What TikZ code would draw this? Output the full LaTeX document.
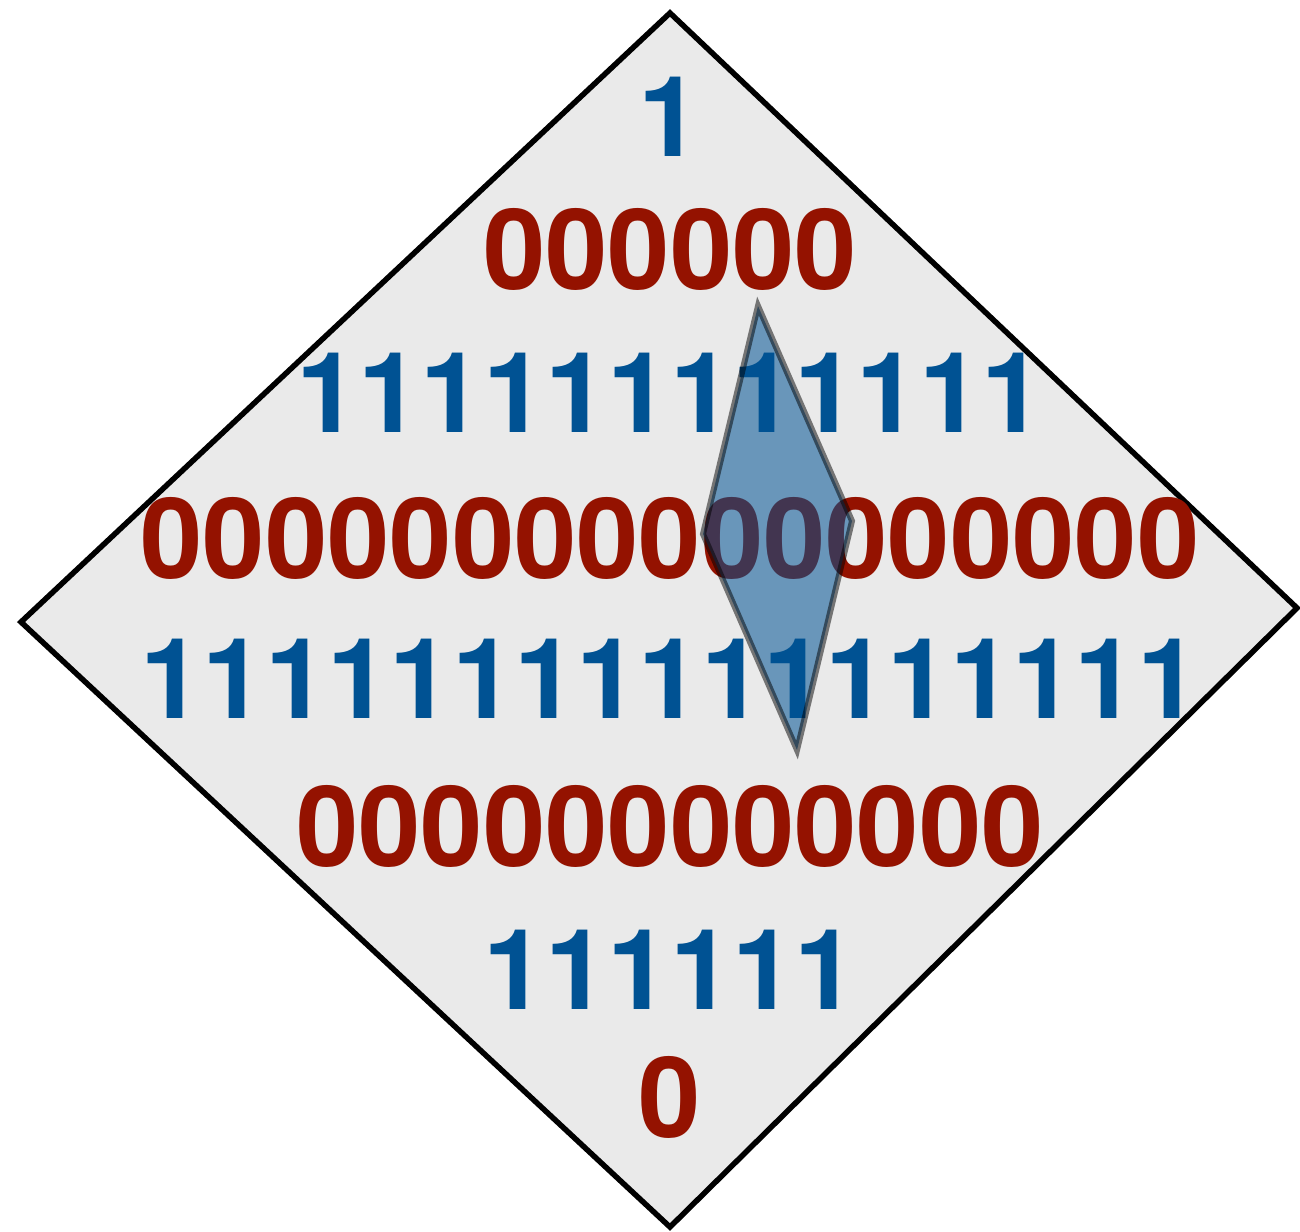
\documentclass[tikz,border=0pt]{standalone}
\usepackage{fontspec}
\setmainfont{TeX Gyre Heros}
\definecolor{bitblue}{RGB}{0,82,147}
\definecolor{bitred}{RGB}{148,18,0}
\definecolor{panel}{RGB}{234,234,234}
\tikzset{
  bits/.style={anchor=base, inner sep=0pt, font=\fontsize{112}{112}\selectfont\bfseries},
  onebits/.style={bits, text=bitblue},
  zerobits/.style={bits, text=bitred},
  lens/.style={fill=bitblue, fill opacity=0.55, draw=black, draw opacity=0.5, line width=6pt, line join=miter}
}
\begin{document}
\begin{tikzpicture}[x=1pt, y=-1pt]
  \useasboundingbox (0,0) rectangle (1300,1231);
  % outer diamond
  \coordinate (T) at (670,13);
  \coordinate (L) at (21,622);
  \coordinate (B) at (670,1227);
  \coordinate (R) at (1297,608);
  \draw[fill=panel, line width=5.5pt, line join=miter] (T) -- (R) -- (B) -- (L) -- cycle;
  % rows of bits
  \node[onebits]  (row1) at (670,156)  {1};
  \node[zerobits] (row2) at (670,289)  {000000};
  \node[onebits]  (row3) at (670,432)  {111111111111};
  \node[zerobits] (row4) at (670,578)  {00000000000000000};
  \node[onebits]  (row5) at (670,718)  {11111111111111111};
  \node[zerobits] (row6) at (670,866)  {000000000000};
  \node[onebits]  (row7) at (670,1009) {111111};
  \node[zerobits] (row8) at (670,1137) {0};
  % translucent lens on top
  \coordinate (lt) at (758,306);
  \coordinate (lr) at (852,521);
  \coordinate (lb) at (797,750);
  \coordinate (ll) at (703,534);
  \draw[lens] (lt) -- (lr) -- (lb) -- (ll) -- cycle;
\end{tikzpicture}
\end{document}
